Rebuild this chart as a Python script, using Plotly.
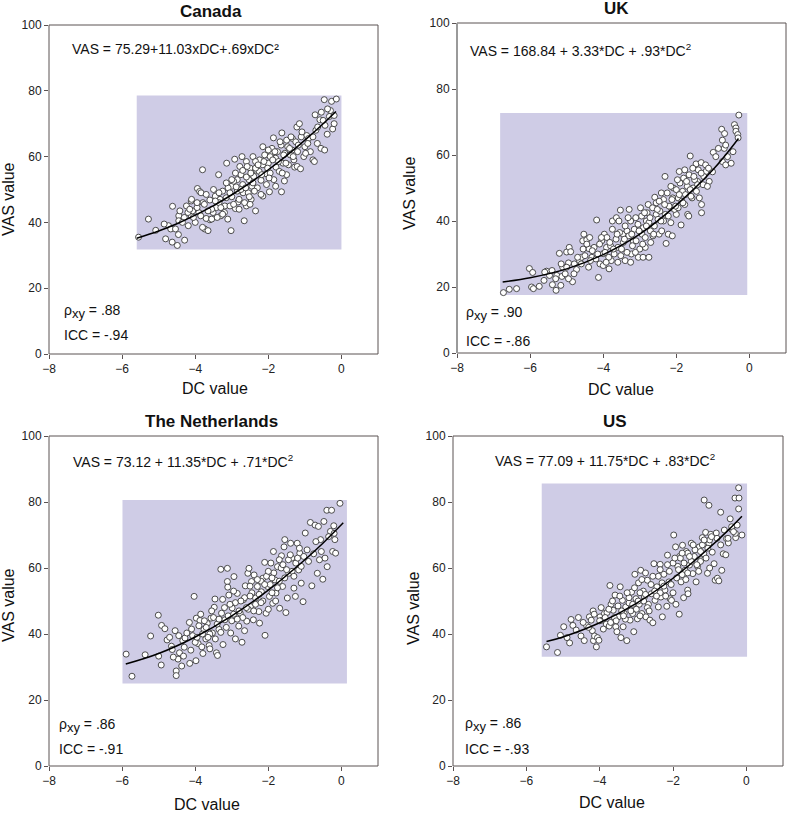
import plotly.graph_objects as go

# ---------------- data ----------------
COUNTRIES = ["Canada", "UK", "The Netherlands", "US"]

CANADA_POINTS = [
    (-5.55,35.5),(-5.28,41.0),(-5.08,37.6),(-4.81,35.0),(-4.73,39.0),(-4.63,34.0),(-4.62,44.9),(-4.67,38.0),
    (-4.54,38.0),(-4.49,33.0),(-4.45,42.0),(-4.42,43.5),(-4.46,36.3),(-4.29,34.6),(-4.24,45.0),(-4.19,39.0),
    (-4.11,46.5),(-4.11,42.0),(-4.07,43.5),(-3.94,50.3),(-3.88,49.4),(-3.84,49.0),(-3.80,56.0),(-3.90,43.0),
    (-3.79,46.0),(-3.74,38.0),(-3.65,37.5),(-3.60,40.8),(-3.51,43.0),(-3.42,44.5),(-3.36,54.5),(-3.32,47.0),
    (-3.30,42.0),(-3.19,45.0),(-3.14,58.0),(-3.11,41.0),(-3.02,37.5),(-3.00,51.0),(-2.92,59.2),(-2.85,53.0),
    (-2.83,46.2),(-2.78,57.0),(-2.72,60.0),(-2.69,49.0),(-2.66,40.5),(-2.60,45.0),(-2.53,53.0),(-2.47,47.0),
    (-2.42,60.0),(-2.35,43.5),(-2.32,55.8),(-2.24,59.0),(-2.15,63.0),(-2.15,48.0),(-2.06,54.8),(-1.97,49.3),
    (-1.92,61.0),(-1.86,65.7),(-1.79,56.8),(-1.64,49.3),(-1.63,67.2),(-1.56,52.6),(-1.47,63.0),(-1.34,65.5),
    (-1.28,56.8),(-1.22,69.0),(-1.15,70.0),(-1.21,57.0),(-1.12,56.3),(-1.03,60.0),(-0.95,66.4),(-0.78,59.0),
    (-0.74,58.5),(-0.72,72.7),(-0.66,64.0),(-0.59,71.2),(-0.56,62.5),(-0.46,62.0),(-0.47,77.3),(-0.39,66.8),
    (-0.33,72.2),(-0.27,76.8),(-0.14,77.5),(-0.24,68.4),(-0.20,70.0),
    (-4.3,41.5),(-4.2,43.0),(-4.0,40.0),(-3.95,44.5),(-3.85,42.0),(-3.75,45.5),(-3.7,41.2),(-3.6,46.8),
    (-3.55,44.0),(-3.45,48.0),(-3.4,41.5),(-3.35,46.0),(-3.25,49.5),(-3.2,43.0),(-3.15,47.5),(-3.1,50.5),
    (-3.05,45.0),(-3.0,47.8),(-2.95,52.5),(-2.9,44.2),(-2.85,49.5),(-2.8,47.0),(-2.75,54.5),(-2.7,51.5),
    (-2.65,46.0),(-2.6,53.8),(-2.55,49.0),(-2.5,56.5),(-2.45,51.0),(-2.4,54.0),(-2.35,58.5),(-2.3,50.5),
    (-2.25,55.5),(-2.2,52.8),(-2.15,57.5),(-2.1,60.5),(-2.05,51.5),(-2.0,58.0),(-1.95,55.0),(-1.9,62.5),
    (-1.85,53.0),(-1.8,59.5),(-1.75,61.5),(-1.7,55.5),(-1.65,63.5),(-1.6,58.0),(-1.55,61.0),(-1.5,65.0),
    (-1.45,57.5),(-1.4,60.5),(-1.35,62.0),(-1.3,59.0),(-1.25,64.5),(-1.2,61.5),(-1.1,66.0),(-1.0,63.0),
    (-0.9,65.5),(-0.85,61.5),(-0.7,68.0),(-0.55,73.5),(-0.45,69.5),(-0.3,74.0),(-0.2,72.5),(-3.5,50.0),
    (-2.9,55.0),(-2.5,45.5),(-2.2,48.5),(-1.8,51.0),(-4.1,47.0),(-3.8,38.5),(-2.6,58.5),(-1.95,60.0),
    (-2.35,56.5),(-2.75,50.0),(-3.3,44.5),(-4.45,40.5),(-4.85,39.5),(-3.0,53.0),(-2.0,62.0),(-1.5,54.5),
    (-3.95,46.0),(-3.7,48.5),(-3.55,41.0),(-3.45,46.5),(-3.25,42.5),(-3.15,52.0),(-3.05,49.0),(-2.95,45.5),
    (-2.88,50.8),(-2.8,44.0),(-2.7,55.8),(-2.62,50.5),(-2.52,47.8),(-2.48,55.0),(-2.42,52.0),(-2.38,49.5),
    (-2.28,57.5),(-2.18,54.5),(-2.12,58.5),(-2.02,56.5),(-1.98,53.5),(-1.88,59.0),(-1.82,61.5),(-1.72,58.5),
    (-1.68,64.5),(-1.58,60.5),(-1.52,58.0),(-1.42,62.5),(-1.38,66.0),(-1.32,60.0),(-1.18,63.5),(-1.08,67.5),
    (-0.98,61.0),(-0.92,64.0),(-0.78,66.0),(-0.65,69.0),(-0.5,71.0),(-0.38,74.5),(-4.35,40.0),(-4.15,44.0),
    (-4.05,41.5),(-3.65,43.5),(-3.35,49.0),(-2.58,57.0),(-1.62,55.0),
]

UK_POINTS = [
    (-6.73,18.3),(-6.57,19.3),(-6.37,19.5),(-6.02,25.6),(-5.96,20.0),(-5.91,19.5),(-5.93,24.4),(-5.75,20.2),
    (-5.62,22.0),(-5.55,24.8),(-5.47,23.5),(-5.39,20.7),(-5.29,19.0),(-5.27,23.5),(-5.20,30.2),(-5.16,20.5),
    (-5.13,23.2),(-5.11,26.0),(-5.04,24.0),(-5.00,30.6),(-4.95,27.3),(-4.93,32.0),(-4.89,30.7),(-4.84,21.6),
    (-4.79,27.0),(-4.73,25.3),(-4.65,28.0),(-4.59,29.0),(-4.56,34.0),(-4.53,36.0),(-4.45,34.3),(-4.39,31.6),
    (-4.37,35.0),(-4.31,29.0),(-4.25,32.0),(-4.18,40.3),(-4.13,22.9),(-4.09,27.0),(-4.04,34.0),(-4.00,30.1),
    (-3.97,36.0),(-3.91,32.0),(-3.84,25.5),(-3.78,28.0),(-3.75,40.0),(-3.64,41.0),(-3.60,32.0),(-3.53,43.3),
    (-3.46,36.0),(-3.40,28.0),(-3.35,37.0),(-3.29,43.5),(-3.23,30.0),(-3.18,34.0),(-3.11,41.0),(-3.04,29.0),
    (-2.98,44.0),(-2.94,36.0),(-2.91,29.0),(-2.85,32.0),(-2.82,40.0),(-2.77,45.0),(-2.71,37.0),(-2.64,35.5),
    (-2.59,47.2),(-2.55,42.0),(-2.47,36.0),(-2.41,48.5),(-2.35,40.0),(-2.31,53.5),(-2.28,33.2),(-2.22,36.0),
    (-2.14,44.0),(-2.11,35.5),(-2.08,50.0),(-2.00,42.0),(-1.95,47.0),(-1.92,55.0),(-1.87,38.8),(-1.83,49.0),
    (-1.77,45.0),(-1.69,42.0),(-1.66,41.5),(-1.62,59.7),(-1.57,47.0),(-1.54,50.0),(-1.46,57.3),(-1.42,52.0),
    (-1.37,47.0),(-1.32,57.7),(-1.31,45.0),(-1.31,42.5),(-1.27,51.0),(-1.19,55.0),(-1.10,52.0),(-1.01,54.9),
    (-0.99,60.8),(-0.92,59.5),(-0.76,67.8),(-0.74,64.5),(-0.69,62.0),(-0.74,58.0),(-0.68,66.5),(-0.65,57.0),
    (-0.60,59.5),(-0.65,63.0),(-0.41,69.2),(-0.37,68.2),(-0.37,67.2),(-0.32,66.2),(-0.29,72.1),(-0.31,65.2),
    (-4.6,27.0),(-4.5,29.5),(-4.4,26.0),(-4.3,31.0),(-4.2,28.5),(-4.1,33.0),(-4.0,26.5),(-3.95,30.5),
    (-3.9,35.0),(-3.85,29.0),(-3.8,32.5),(-3.7,30.0),(-3.65,34.5),(-3.6,27.5),(-3.55,36.5),(-3.5,31.5),
    (-3.45,33.5),(-3.4,38.5),(-3.35,30.5),(-3.3,35.5),(-3.25,40.0),(-3.2,32.5),(-3.15,37.5),(-3.1,34.0),
    (-3.05,39.0),(-3.0,31.5),(-2.95,41.5),(-2.9,38.0),(-2.85,35.0),(-2.8,42.5),(-2.75,39.5),(-2.7,33.5),
    (-2.65,44.0),(-2.6,38.5),(-2.55,45.5),(-2.5,40.5),(-2.45,43.0),(-2.4,37.0),(-2.35,46.5),(-2.3,42.0),
    (-2.25,48.5),(-2.2,44.5),(-2.15,39.5),(-2.1,47.0),(-2.05,43.5),(-2.0,49.5),(-1.95,44.0),(-1.9,51.5),
    (-1.85,46.0),(-1.8,53.0),(-1.75,48.0),(-1.7,50.5),(-1.65,54.0),(-1.6,47.5),(-1.5,52.5),(-1.45,49.0),
    (-1.4,55.5),(-1.25,53.5),(-1.2,57.0),(-1.15,50.5),(-5.6,24.5),(-5.4,25.0),(-5.3,22.5),(-5.0,26.0),
    (-4.8,24.0),(-4.7,29.0),(-3.75,37.5),(-3.25,27.5),(-2.75,29.0),(-2.15,50.5),(-1.55,56.0),(-0.85,62.0),
    (-0.5,57.5),(-0.45,61.0),
    (-4.45,33.0),(-4.35,28.0),(-4.15,30.0),(-4.05,35.0),(-3.92,27.5),(-3.82,33.5),(-3.72,31.5),(-3.62,36.0),
    (-3.52,29.5),(-3.42,34.5),(-3.32,41.0),(-3.22,36.0),(-3.12,30.5),(-3.02,37.0),(-2.92,33.0),(-2.82,38.5),
    (-2.72,41.0),(-2.62,36.0),(-2.52,43.5),(-2.42,40.0),(-2.32,45.0),(-2.22,41.5),(-2.12,46.5),(-2.02,44.5),
    (-1.92,48.0),(-1.82,45.5),(-1.72,52.0),(-1.62,49.5),(-1.52,53.5),(-1.42,51.0),(-1.32,54.5),(-1.12,56.0),
    (-5.15,27.0),(-4.95,22.5),(-4.55,31.5),(-3.57,40.0),(-2.87,42.5),(-2.47,46.0),(-1.97,52.5),(-1.77,55.5),
]

NETHERLANDS_POINTS = [
    (-5.89,33.9),(-5.73,27.2),(-5.37,33.7),(-5.22,39.4),(-5.01,45.7),(-5.00,33.3),(-4.93,30.6),(-4.92,42.6),
    (-4.83,41.6),(-4.77,38.2),(-4.70,39.0),(-4.65,36.3),(-4.63,35.3),(-4.55,41.0),(-4.52,28.8),(-4.52,27.4),
    (-4.47,32.4),(-4.43,34.3),(-4.37,30.3),(-4.34,38.0),(-4.32,33.3),(-4.28,38.8),(-4.23,40.3),(-4.16,43.5),
    (-4.15,31.1),(-4.12,35.1),(-4.07,39.5),(-4.03,51.4),(-3.98,31.9),(-3.97,44.8),(-3.92,37.1),(-3.87,44.1),
    (-3.82,36.1),(-3.79,34.1),(-3.76,41.4),(-3.71,38.5),(-3.67,43.2),(-3.62,36.5),(-3.57,44.8),(-3.53,40.3),
    (-3.48,48.1),(-3.46,50.6),(-3.42,34.3),(-3.39,33.5),(-3.35,41.4),(-3.30,59.6),(-3.28,46.3),(-3.24,36.8),
    (-3.19,44.3),(-3.12,59.9),(-3.12,55.9),(-3.11,54.2),(-3.08,51.8),(-3.03,40.3),(-2.99,47.9),(-2.94,57.4),
    (-2.90,38.5),(-2.85,52.3),(-2.81,42.4),(-2.77,46.3),(-2.72,37.5),(-2.68,50.4),(-2.63,54.6),(-2.59,43.9),
    (-2.56,58.4),(-2.53,59.9),(-2.49,48.3),(-2.46,55.9),(-2.41,44.3),(-2.39,57.9),(-2.35,50.9),(-2.30,54.4),
    (-2.26,46.8),(-2.24,43.3),(-2.19,52.8),(-2.15,56.9),(-2.10,61.7),(-2.09,39.6),(-2.06,46.3),(-2.02,54.4),
    (-1.97,51.4),(-1.93,61.5),(-1.88,49.3),(-1.86,65.0),(-1.82,56.4),(-1.79,52.4),(-1.75,60.4),(-1.69,47.8),
    (-1.64,63.7),(-1.61,54.4),(-1.57,66.4),(-1.55,68.6),(-1.52,46.5),(-1.48,50.9),(-1.44,58.4),(-1.39,67.5),
    (-1.36,63.0),(-1.30,53.9),(-1.26,51.4),(-1.21,67.5),(-1.17,59.4),(-1.14,64.5),(-1.10,55.4),(-1.05,49.8),
    (-1.03,63.5),(-0.99,70.6),(-0.94,65.5),(-0.85,73.8),(-0.81,54.6),(-0.76,64.3),(-0.72,73.0),(-0.66,58.4),
    (-0.63,72.6),(-0.60,62.5),(-0.57,68.6),(-0.51,56.6),(-0.48,74.1),(-0.45,63.0),(-0.40,77.5),(-0.39,60.4),
    (-0.30,71.1),(-0.27,77.5),(-0.24,65.0),(-0.21,72.8),(-0.18,68.6),(-0.04,79.6),(-0.16,64.5),
    (-3.9,42.5),(-3.75,44.0),(-3.6,40.0),(-3.5,45.0),(-3.4,43.0),(-3.3,40.5),(-3.2,48.0),(-3.1,45.5),
    (-3.0,44.0),(-2.9,49.5),(-2.8,47.0),(-2.7,45.0),(-2.65,51.0),(-2.55,47.5),(-2.45,52.5),(-2.35,49.0),
    (-2.25,52.0),(-2.15,50.0),(-2.05,57.5),(-1.95,55.0),(-1.85,58.5),(-1.75,54.0),(-1.65,60.0),(-1.55,57.0),
    (-1.45,62.5),(-1.35,59.0),(-1.25,61.5),(-1.15,66.0),(-3.8,40.0),(-2.95,53.0),(-2.2,56.0),(-1.9,52.5),
    (-4.0,37.5),(-3.65,39.0),(-2.5,54.5),(-1.7,62.5),
    (-4.3,36.0),(-4.1,41.5),(-3.95,39.0),(-3.85,46.0),(-3.7,42.0),(-3.55,47.0),(-3.45,38.5),(-3.35,44.5),
    (-3.25,50.5),(-3.15,42.0),(-3.05,49.0),(-2.95,46.0),(-2.85,44.5),(-2.75,50.0),(-2.6,48.0),(-2.5,51.5),
    (-2.4,47.0),(-2.3,56.5),(-2.2,49.5),(-2.1,55.0),(-2.0,59.0),(-1.9,57.0),(-1.8,50.0),(-1.7,56.0),
    (-1.6,61.0),(-1.5,59.5),(-1.4,64.0),(-1.3,57.5),(-1.2,63.0),(-1.1,60.5),(-0.9,62.0),(-0.7,68.0),
    (-0.55,65.0),(-0.35,69.5),(-0.2,70.5),(-4.45,39.5),(-4.6,33.0),(-3.6,35.5),(-2.65,41.0),(-2.0,47.5),
]

US_POINTS = [
    (-5.45,36.1),(-5.15,34.4),(-5.07,39.6),(-4.98,42.2),(-4.89,38.9),(-4.82,37.3),(-4.78,44.4),(-4.73,42.6),
    (-4.64,41.2),(-4.58,45.0),(-4.51,39.4),(-4.42,38.0),(-4.36,42.6),(-4.28,45.2),(-4.23,44.2),(-4.20,41.0),
    (-4.18,47.0),(-4.17,38.0),(-4.14,39.4),(-4.09,36.1),(-4.06,38.9),(-4.02,38.1),(-3.99,45.2),(-3.96,48.0),
    (-3.93,44.2),(-3.87,46.2),(-3.82,43.0),(-3.74,42.4),(-3.72,54.7),(-3.69,49.0),(-3.63,47.2),(-3.58,51.8),
    (-3.56,42.2),(-3.53,40.7),(-3.49,45.2),(-3.44,54.3),(-3.42,38.9),(-3.38,50.2),(-3.36,42.2),(-3.33,46.2),
    (-3.29,48.2),(-3.26,38.0),(-3.20,49.4),(-3.17,44.2),(-3.13,52.7),(-3.10,46.2),(-3.07,40.7),(-3.04,58.1),
    (-3.01,50.7),(-2.97,44.6),(-2.94,55.5),(-2.92,49.0),(-2.88,59.3),(-2.85,46.2),(-2.81,53.0),(-2.78,51.2),
    (-2.74,45.2),(-2.70,56.3),(-2.67,49.0),(-2.63,44.2),(-2.59,52.2),(-2.55,43.4),(-2.52,61.3),(-2.49,50.2),
    (-2.44,54.3),(-2.40,48.2),(-2.35,61.1),(-2.33,51.2),(-2.29,45.2),(-2.25,58.1),(-2.22,53.3),(-2.17,48.4),
    (-2.15,63.9),(-2.11,55.8),(-2.08,50.7),(-2.04,50.2),(-1.98,70.0),(-1.93,66.4),(-1.92,49.0),(-1.87,60.5),
    (-1.83,46.0),(-1.82,63.5),(-1.78,55.8),(-1.74,66.9),(-1.71,51.0),(-1.67,59.3),(-1.64,65.0),(-1.60,53.3),
    (-1.59,52.2),(-1.55,60.9),(-1.50,67.5),(-1.46,58.3),(-1.42,63.5),(-1.37,55.8),(-1.33,60.5),(-1.28,66.4),
    (-1.24,62.5),(-1.15,80.6),(-1.02,79.0),(-1.20,69.2),(-1.16,64.3),(-1.11,70.8),(-1.06,58.4),(-1.02,67.5),
    (-0.97,70.2),(-0.93,64.8),(-0.88,61.3),(-0.85,56.3),(-0.82,70.6),(-0.79,56.9),(-0.75,56.1),(-0.70,76.9),
    (-0.67,59.3),(-0.63,64.3),(-0.56,64.0),(-0.54,68.9),(-0.49,67.6),(-0.44,74.9),(-0.39,71.6),(-0.31,81.2),
    (-0.20,81.2),(-0.21,84.3),(-0.21,77.9),(-0.12,70.0),(-0.29,69.2),
    (-4.0,44.0),(-3.8,46.5),(-3.6,45.0),(-3.5,48.5),(-3.4,47.0),(-3.3,44.5),(-3.2,51.0),(-3.1,49.0),
    (-3.0,47.5),(-2.9,52.5),(-2.8,50.0),(-2.7,48.0),(-2.6,55.0),(-2.5,53.0),(-2.4,57.5),(-2.3,55.5),
    (-2.2,51.5),(-2.1,59.0),(-2.0,61.5),(-1.9,57.0),(-1.8,63.0),(-1.7,61.5),(-1.6,64.5),(-1.5,62.0),
    (-1.4,65.5),(-1.3,59.0),(-1.2,67.0),(-1.1,63.0),(-1.0,68.5),(-0.8,69.0),(-0.6,71.5),(-0.4,72.5),
    (-0.3,70.5),(-0.25,73.0),(-2.75,58.5),(-3.7,43.5),(-4.3,42.0),(-2.35,52.5),(-1.75,58.0),(-1.25,62.0),
    (-4.45,43.5),(-4.15,46.0),(-3.9,41.5),(-3.75,47.5),(-3.65,50.0),(-3.55,44.0),(-3.45,51.5),(-3.35,45.5),
    (-3.25,52.5),(-3.15,47.0),(-3.05,54.0),(-2.95,50.0),(-2.85,56.5),(-2.75,52.0),(-2.65,47.0),(-2.55,57.5),
    (-2.45,51.5),(-2.35,59.5),(-2.25,54.5),(-2.15,61.0),(-2.05,55.0),(-1.95,63.0),(-1.85,59.5),(-1.75,64.5),
    (-1.65,56.5),(-1.55,63.5),(-1.45,67.0),(-1.35,61.0),(-1.25,65.0),(-1.15,68.5),(-1.05,66.0),(-0.95,69.5),
    (-0.7,67.0),(-0.5,69.0),(-0.35,71.0),(-3.85,45.0),(-2.9,45.5),(-2.0,52.5),(-1.6,58.5),(-1.0,60.0),
]

# fitted curves
CANADA_FIT_DC = [-5.6, -5.0, -4.5, -4.0, -3.5, -3.0, -2.5, -2.0, -1.5, -1.0, -0.5, -0.15]
CANADA_FIT_VAS = [35.2, 37.4, 39.6, 42.2, 45.1, 48.4, 52.0, 56.0, 60.3, 65.0, 70.0, 73.7]
UK_FIT_DC = [-6.75, -6.0, -5.0, -4.0, -3.0, -2.0, -1.0, -0.3]
UK_FIT_VAS = [21.5, 22.8, 25.5, 29.8, 36.0, 44.8, 55.5, 65.0]
NETHERLANDS_FIT_DC = [-5.9, -5.0, -4.0, -3.0, -2.0, -1.0, -0.5, 0.05]
NETHERLANDS_FIT_VAS = [30.9, 34.1, 39.1, 45.5, 53.3, 62.5, 67.6, 73.7]
US_FIT_DC = [-5.45, -5.0, -4.0, -3.0, -2.0, -1.0, -0.5, -0.12]
US_FIT_VAS = [37.7, 39.1, 43.4, 49.3, 56.9, 66.2, 71.4, 75.7]

# shaded data regions (x0, x1, y0, y1)
SHADE = {
    "Canada": (-5.6, 0.0, 31.8, 78.6),
    "UK": (-6.82, -0.06, 17.6, 72.7),
    "The Netherlands": (-5.99, 0.15, 25.0, 80.6),
    "US": (-5.58, 0.02, 33.1, 85.6),
}

EQUATIONS = [
    "VAS = 75.29+11.03xDC+.69xDC²",
    "VAS = 168.84 + 3.33*DC + .93*DC<sup>2</sup>",
    "VAS = 73.12 + 11.35*DC + .71*DC<sup>2</sup>",
    "VAS = 77.09 + 11.75*DC + .83*DC<sup>2</sup>",
]
RHO = [".88", ".90", ".86", ".86"]
ICC = ["-.94", "-.86", "-.91", "-.93"]

X_TICKS = [-8, -6, -4, -2, 0]
Y_TICKS = [0, 20, 40, 60, 80, 100]

POINTS = [CANADA_POINTS, UK_POINTS, NETHERLANDS_POINTS, US_POINTS]
FITS = [(CANADA_FIT_DC, CANADA_FIT_VAS), (UK_FIT_DC, UK_FIT_VAS),
        (NETHERLANDS_FIT_DC, NETHERLANDS_FIT_VAS), (US_FIT_DC, US_FIT_VAS)]

# ---------------- layout geometry (pixels) ----------------
W, H = 787, 813
PANELS = [(49, 378, 25, 354), (457, 786, 23, 353), (49, 378, 436, 766), (453, 783, 436, 766)]
EQ_POS = [(-7.42, 92.7), (-7.69, 91.7), (-7.40, 92.5), (-6.91, 92.7)]
RHO_POS = [(-7.64, 12.8), (-7.81, 12.0), (-7.77, 12.3), (-7.74, 12.6)]
ICC_POS = [(-7.64, 5.9), (-7.81, 3.6), (-7.77, 5.3), (-7.74, 5.3)]
TITLE_PX = [(211, 11), (616, 9), (212, 421), (615, 421)]
YTITLE_PX = [(8, 199), (409, 193), (8, 605), (413, 608)]
XTITLE_PX = [(215, 389), (621, 390), (207, 804), (612, 802)]

FONT = "Liberation Sans, Arial, Helvetica, sans-serif"
FRAME = "#5a5252"

fig = go.Figure()
layout = dict(
    width=W, height=H, margin=dict(l=0, r=0, t=0, b=0, pad=0, autoexpand=False),
    paper_bgcolor="white", plot_bgcolor="white", showlegend=False,
    font=dict(family=FONT, size=12, color="#222"),
)
shapes = []
annotations = []

for i, name in enumerate(COUNTRIES):
    n = i + 1
    xa = "x" if n == 1 else f"x{n}"
    ya = "y" if n == 1 else f"y{n}"
    xkey = "xaxis" if n == 1 else f"xaxis{n}"
    ykey = "yaxis" if n == 1 else f"yaxis{n}"
    l, r, t, b = PANELS[i]
    layout[xkey] = dict(
        domain=[l / W, r / W], anchor=ya, range=[-8, 1], tickvals=X_TICKS,
        ticks="outside", ticklen=4, tickcolor=FRAME, showline=False, automargin=False,
        showgrid=False, zeroline=False, tickfont=dict(size=12, color="#222"),
    )
    layout[ykey] = dict(
        domain=[1 - b / H, 1 - t / H], anchor=xa, range=[0, 100], tickvals=Y_TICKS,
        ticks="outside", ticklen=4, tickcolor=FRAME, showline=False, automargin=False,
        showgrid=False, zeroline=False, tickfont=dict(size=12, color="#222"),
    )
    x0, x1, y0, y1 = SHADE[name]
    shapes.append(dict(type="rect", xref=xa, yref=ya, x0=x0, x1=x1, y0=y0, y1=y1,
                       fillcolor="#cfcce6", line=dict(width=0), layer="below"))
    shapes.append(dict(type="rect", xref=f"{xa} domain", yref=f"{ya} domain",
                       x0=0, x1=1, y0=0, y1=1, line=dict(color=FRAME, width=1),
                       fillcolor="rgba(0,0,0,0)", layer="above"))
    if name == "UK":
        shapes.append(dict(type="line", xref=f"{xa} domain", yref=f"{ya} domain",
                           x0=0, x1=0, y0=0, y1=1, line=dict(color="#9a9a9a", width=2),
                           layer="above"))

    pts = POINTS[i]
    fig.add_trace(go.Scatter(
        x=[p[0] for p in pts], y=[p[1] for p in pts], mode="markers", xaxis=xa, yaxis=ya,
        marker=dict(size=6, color="white", line=dict(color="#3a3a3a", width=0.9)),
        hoverinfo="skip",
    ))
    fx, fy = FITS[i]
    fig.add_trace(go.Scatter(
        x=fx, y=fy, mode="lines", xaxis=xa, yaxis=ya,
        line=dict(color="black", width=1.5, shape="spline"), hoverinfo="skip",
    ))

    annotations.append(dict(text=EQUATIONS[i], xref=xa, yref=ya, x=EQ_POS[i][0], y=EQ_POS[i][1],
                            xanchor="left", yanchor="middle", showarrow=False,
                            font=dict(size=14, color="#111")))
    annotations.append(dict(
        text=f"ρ<sub><span style='font-size:13px'>xy</span></sub> = {RHO[i]}",
        xref=xa, yref=ya, x=RHO_POS[i][0], y=RHO_POS[i][1], xanchor="left", yanchor="middle",
        showarrow=False, font=dict(size=14, color="#111")))
    annotations.append(dict(text=f"ICC = {ICC[i]}", xref=xa, yref=ya,
                            x=ICC_POS[i][0], y=ICC_POS[i][1], xanchor="left", yanchor="middle",
                            showarrow=False, font=dict(size=14, color="#111")))
    tx, ty = TITLE_PX[i]
    annotations.append(dict(text=f"<b>{name}</b>", xref="paper", yref="paper",
                            x=tx / W, y=1 - ty / H, xanchor="center", yanchor="middle",
                            showarrow=False, font=dict(size=17, color="#111")))
    yx, yy = YTITLE_PX[i]
    annotations.append(dict(text="VAS value", xref="paper", yref="paper", textangle=-90,
                            x=yx / W, y=1 - yy / H, xanchor="center", yanchor="middle",
                            showarrow=False, font=dict(size=16, color="#111")))
    xx, xy = XTITLE_PX[i]
    annotations.append(dict(text="DC value", xref="paper", yref="paper",
                            x=xx / W, y=1 - xy / H, xanchor="center", yanchor="middle",
                            showarrow=False, font=dict(size=16, color="#111")))

layout["shapes"] = shapes
layout["annotations"] = annotations
fig.update_layout(**layout)
fig.write_html(
    "out.html",
    config={"displayModeBar": False, "responsive": False},
    post_script="document.body.style.margin='0';document.body.style.padding='0';document.body.style.overflow='hidden';",
)
